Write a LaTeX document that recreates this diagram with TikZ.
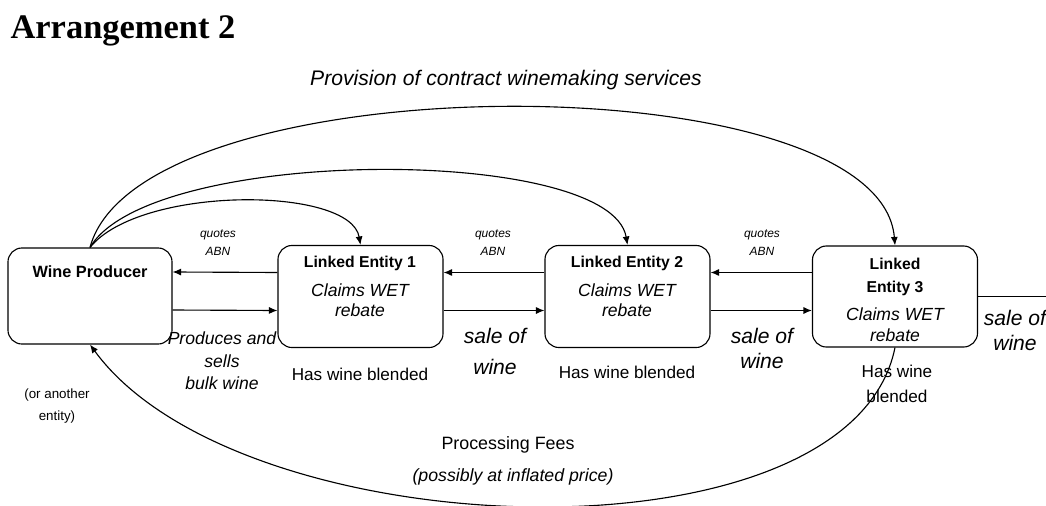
\documentclass[tikz,border=0pt]{standalone}
\usepackage{fontspec}
\setmainfont{Liberation Sans}
\newfontfamily\titlefont{Liberation Serif}
\usetikzlibrary{arrows.meta}

\begin{document}
\begin{tikzpicture}[x=0.025cm,y=-0.025cm,>={Latex[length=6pt,width=5pt]},thick,
	entity/.style={draw,rounded corners=0.35cm,minimum width=4.125cm,minimum height=2.55cm},
	txt/.style={inner sep=0pt,align=center}]
	\useasboundingbox (0,0) rectangle (1046,506);
	\node[txt,anchor=west] (title) at (10,31) {\titlefont\bfseries\fontsize{24.5}{28}\selectfont Arrangement 2};
	\node[txt,font=\itshape\fontsize{15}{18}\selectfont] (prov) at (506,80) {Provision of contract winemaking services};

	\node[entity,minimum width=4.1cm,minimum height=2.4cm] (wp) at (90,296) {};
	\node[entity] (le1) at (360.5,296.5) {};
	\node[entity] (le2) at (627.5,296.5) {};
	\node[entity,minimum height=2.525cm] (le3) at (895,296.5) {};
	\coordinate (edge) at (1050,296.5);

	\node[txt,font=\bfseries\fontsize{11.6}{14}\selectfont] (wpname) at (90,272) {Wine Producer};
	\node[txt,font=\bfseries\fontsize{11.2}{14}\selectfont] (le1name) at (360,263) {Linked Entity 1};
	\node[txt,font=\itshape\fontsize{12.5}{14.2}\selectfont] (le1wet) at (360,300) {Claims WET\\rebate};
	\node[txt,font=\bfseries\fontsize{11.2}{14}\selectfont] (le2name) at (627,263) {Linked Entity 2};
	\node[txt,font=\itshape\fontsize{12.5}{14.2}\selectfont] (le2wet) at (627,300) {Claims WET\\rebate};
	\node[txt,font=\bfseries\fontsize{11.2}{16.3}\selectfont] (le3name) at (895,277) {Linked\\Entity 3};
	\node[txt,font=\itshape\fontsize{12.5}{15}\selectfont] (le3wet) at (895,325) {Claims WET\\rebate};

	\draw[->] ([yshift=0.6cm]le1.west) -- ([yshift=0.6cm]wp.east);
	\draw[->] ([yshift=-0.35cm]wp.east) -- ([yshift=-0.35cm]le1.west);
	\draw[->] ([yshift=0.6cm]le2.west) -- ([yshift=0.6cm]le1.east);
	\draw[->] ([yshift=-0.35cm]le1.east) -- ([yshift=-0.35cm]le2.west);
	\draw[->] ([yshift=0.6cm]le3.west) -- ([yshift=0.6cm]le2.east);
	\draw[->] ([yshift=-0.35cm]le2.east) -- ([yshift=-0.35cm]le3.west);
	\draw (le3.east) -- (edge);

	\draw[->] (wp.north) .. controls +(50,-62) and +(-10,-59) .. (le1.north);
	\draw[->] (wp.north) .. controls +(60,-102) and +(-17,-100) .. (le2.north);
	\draw[->] (wp.north) .. controls +(50,-186) and +(-15,-185) .. (le3.north);
	\draw[->] (le3.south) .. controls +(-45,222) and +(150,205) .. (wp.south);

	\node[txt,font=\itshape\fontsize{8.5}{12.8}\selectfont] (q1) at (218,243) {quotes\\ABN};
	\node[txt,font=\itshape\fontsize{8.5}{12.8}\selectfont] (q2) at (493,243) {quotes\\ABN};
	\node[txt,font=\itshape\fontsize{8.5}{12.8}\selectfont] (q3) at (762,243) {quotes\\ABN};

	\node[txt,font=\itshape\fontsize{12.5}{16}\selectfont] (prod) at (222,361) {Produces and\\sells\\bulk wine};
	\node[txt,font=\itshape\fontsize{15}{22}\selectfont] (sale1) at (495,351) {sale of\\wine};
	\node[txt,font=\itshape\fontsize{15}{17.8}\selectfont] (sale2) at (762,348) {sale of\\wine};
	\node[txt,font=\itshape\fontsize{15}{17.8}\selectfont] (sale3) at (1015,330) {sale of\\wine};

	\node[txt,font=\fontsize{12.2}{17}\selectfont] (blend1) at (360,374) {Has wine blended};
	\node[txt,font=\fontsize{12.2}{17}\selectfont] (blend2) at (627,372) {Has wine blended};
	\node[txt,font=\fontsize{12.2}{17.8}\selectfont] (blend3) at (897,384) {Has wine\\blended};

	\node[txt,font=\fontsize{9.5}{15.6}\selectfont] (other) at (57,406) {(or another\\entity)};
	\node[txt,font=\fontsize{12.7}{15}\selectfont] (fees) at (508,445) {Processing Fees};
	\node[txt,font=\itshape\fontsize{12.6}{15}\selectfont] (price) at (513,477) {(possibly at inflated price)};
\end{tikzpicture}
\end{document}
